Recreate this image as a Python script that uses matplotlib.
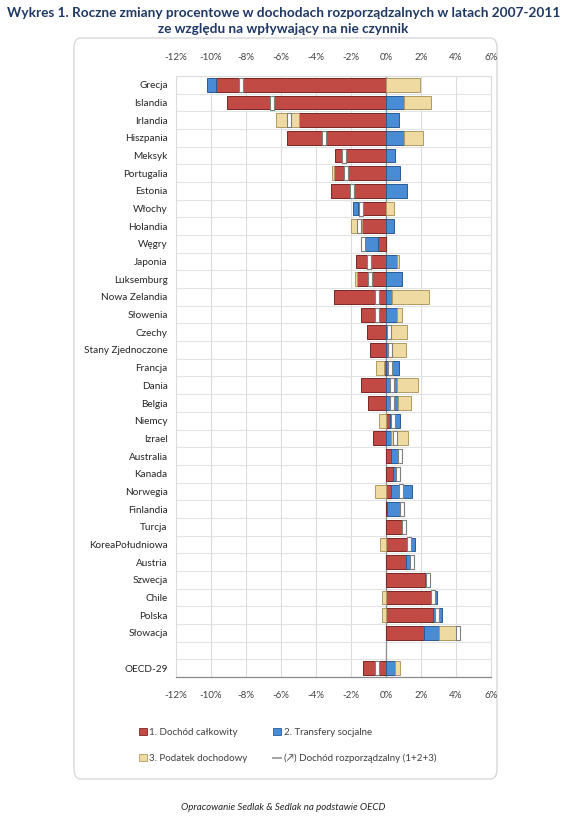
import numpy as np
import matplotlib
matplotlib.use("Agg")
import matplotlib.pyplot as plt
from matplotlib.patches import Patch, FancyBboxPatch
from matplotlib.lines import Line2D

plt.rcParams["font.family"] = ["Lato", "DejaVu Sans"]

# -----------------------------------------------------------
# Data (annual % change 2007-2011)
# -----------------------------------------------------------
countries = [
    "Grecja", "Islandia", "Irlandia", "Hiszpania", "Meksyk", "Portugalia",
    "Estonia", "Włochy", "Holandia", "Węgry", "Japonia", "Luksemburg",
    "Nowa Zelandia", "Słowenia", "Czechy", "Stany Zjednoczone", "Francja",
    "Dania", "Belgia", "Niemcy", "Izrael", "Australia", "Kanada", "Norwegia",
    "Finlandia", "Turcja", "KoreaPołudniowa", "Austria", "Szwecja", "Chile",
    "Polska", "Słowacja", "", "OECD-29",
]

income_total = [
    -9.70, -9.09, -4.97, -5.66, -2.90, -3.00, -3.14, -1.60, -1.40, -0.45,
    -1.71, -1.64, -3.00, -1.43, -1.07, -0.91, -0.10, -1.45, -1.05, 0.25,
    -0.76, 0.30, 0.38, 0.27, 0.05, 0.92, 1.18, 1.14, 2.25, 2.60,
    2.70, 2.19, 0.0, -1.33,
]
social_transfers = [
    -0.55, 1.03, 0.76, 1.03, 0.50, 0.80, 1.22, -0.30, 0.45, -0.85,
    0.61, 0.91, 0.36, 0.61, 0.10, 0.30, 0.75, 0.61, 0.70, 0.55,
    0.30, 0.40, 0.30, 1.23, 0.85, 0.08, 0.48, 0.25, 0.15, 0.33,
    0.48, 0.84, 0.0, 0.51,
]
income_tax = [
    1.95, 1.52, -1.33, 1.07, 0.00, -0.10, 0.00, 0.45, -0.60, 0.00,
    0.13, -0.16, 2.12, 0.30, 1.12, 0.84, -0.45, 1.20, 0.71, -0.42,
    0.98, 0.10, 0.00, -0.63, 0.00, 0.00, -0.34, 0.10, 0.00, -0.25,
    -0.25, 1.10, 0.0, 0.29,
]

series = [income_total, social_transfers, income_tax]
labels = ["1. Dochód całkowity", "2. Transfery socjalne", "3. Podatek dochodowy"]
faces = ["#C24A45", "#4A8BD6", "#EFDBA2"]
edges = ["#7A2624", "#2A5B96", "#B09A62"]

# -----------------------------------------------------------
# Figure
# -----------------------------------------------------------
fig = plt.figure(figsize=(5.67, 8.25), dpi=100)

frame = FancyBboxPatch((74 / 567, 1 - 779 / 825), 423 / 567, 741 / 825,
                       boxstyle="round,pad=0,rounding_size=0.012",
                       transform=fig.transFigure, facecolor="white",
                       edgecolor="#D9D9D9", linewidth=1.0, zorder=-5)
fig.patches.append(frame)

ax = fig.add_axes([176 / 567, 1 - 677 / 825, 315 / 567, 601 / 825])
ax.set_facecolor("none")
ax.set_zorder(2)

y = np.arange(len(countries))
height = 0.78
pos_left = np.zeros(len(countries))
neg_left = np.zeros(len(countries))

for vals, lab, fc, ec in zip(series, labels, faces, edges):
    v = np.array(vals)
    left = np.where(v >= 0, pos_left, neg_left)
    mask = v != 0
    ax.barh(y[mask], v[mask], left=left[mask], height=height,
            color=fc, edgecolor=ec, linewidth=0.7, zorder=3, label=lab)
    pos_left += np.where(v > 0, v, 0)
    neg_left += np.where(v < 0, v, 0)

# disposable income marker (1+2+3)
disposable = np.array(income_total) + np.array(social_transfers) + np.array(income_tax)
mk = np.array([c != "" for c in countries])
rect = [(-0.28, -1), (0.28, -1), (0.28, 1), (-0.28, 1), (-0.28, -1)]
ax.scatter(disposable[mk], y[mk], marker=rect, s=110, facecolor="white",
           edgecolor="#7F7F7F", linewidth=0.8, zorder=5)

# -----------------------------------------------------------
# Axes formatting
# -----------------------------------------------------------
ax.set_xlim(-12, 6)
ax.set_ylim(len(countries) - 0.5, -0.5)
ax.set_xticks(np.arange(-12, 7, 2))
ax.set_xticklabels([f"{t}%" for t in range(-12, 7, 2)])
ax.set_yticks(y)
ax.set_yticklabels(countries)
ax.set_yticks(np.arange(-0.5, len(countries), 1), minor=True)

ax.tick_params(axis="x", top=True, labeltop=True, length=0, labelsize=7,
               labelcolor="#404040", pad=10)
ax.tick_params(axis="y", which="both", length=0, labelsize=7.2,
               labelcolor="#262626", pad=6)

ax.grid(axis="x", which="major", color="#DCDCDC", linewidth=0.8, zorder=0)
ax.grid(axis="y", which="minor", color="#E3E3E3", linewidth=0.8, zorder=0)
ax.set_axisbelow(True)
ax.axvline(0, color="#8C8C8C", linewidth=0.9, zorder=2)

for side in ["top", "left", "right"]:
    ax.spines[side].set_color("#DCDCDC")
    ax.spines[side].set_linewidth(0.8)
ax.spines["bottom"].set_color("#8C8C8C")
ax.spines["bottom"].set_linewidth(0.9)

# -----------------------------------------------------------
# Titles, legend, source
# -----------------------------------------------------------
fig.text(0.5, 1 - 13 / 825, "Wykres 1. Roczne zmiany procentowe w dochodach "
         "rozporządzalnych w latach 2007-2011", ha="center", va="center",
         fontsize=9.8, fontweight="bold", color="#1F3864")
fig.text(0.5, 1 - 29 / 825, "ze względu na wpływający na nie czynnik",
         ha="center", va="center", fontsize=9.8, fontweight="bold",
         color="#1F3864")

handles = [
    Patch(facecolor=faces[0], edgecolor=edges[0], linewidth=0.6),
    Patch(facecolor=faces[1], edgecolor=edges[1], linewidth=0.6),
    Patch(facecolor=faces[2], edgecolor=edges[2], linewidth=0.6),
    Line2D([0], [0], color="#A6A6A6", linewidth=1.5),
]
leg_labels = [labels[0], labels[1], labels[2],
              "(↗) Dochód rozporządzalny (1+2+3)"]
# reorder so that ncol=2 fills rows: [1, 2] / [3, 4]
order = [0, 2, 1, 3]
fig.legend([handles[i] for i in order], [leg_labels[i] for i in order],
           ncol=2, loc="upper left", bbox_to_anchor=(130 / 567, 1 - 719 / 825),
           frameon=False, fontsize=7, handlelength=0.8, handleheight=0.8,
           handletextpad=0.3, columnspacing=2.6, labelspacing=1.75,
           labelcolor="#404040")

fig.text(0.5, 1 - 807 / 825, "Opracowanie Sedlak & Sedlak na podstawie OECD",
         ha="center", va="center", fontsize=7, style="italic", color="#262626")

fig.savefig("out.png", dpi=100)
